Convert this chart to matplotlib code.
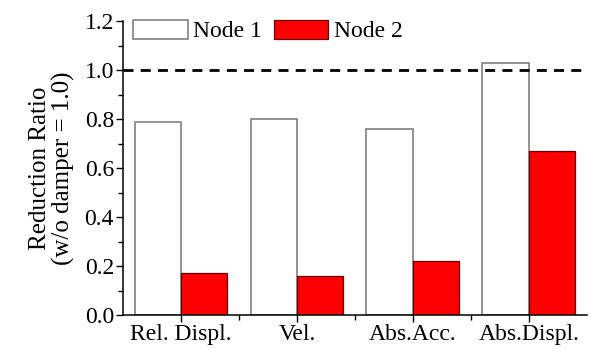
import matplotlib
matplotlib.use("Agg")
import matplotlib.pyplot as plt
import numpy as np
from matplotlib.ticker import MultipleLocator, FixedLocator, FormatStrFormatter

categories = ["Rel. Displ.", "Vel.", "Abs.Acc.", "Abs.Displ."]
node1 = [0.79, 0.80, 0.76, 1.03]
node2 = [0.17, 0.16, 0.22, 0.67]
series_names = ["Node 1", "Node 2"]

plt.rcParams["font.family"] = ["Liberation Serif", "DejaVu Serif"]
plt.rcParams["font.size"] = 17

fig = plt.figure(figsize=(5.90, 3.49), dpi=100)
ax = fig.add_axes([0.2085, 0.0974, 0.786, 0.842])

x = np.arange(len(categories))
w = 0.4
ax.bar(x - w / 2, node1, width=w, color="white", edgecolor="#808080",
       linewidth=1.2, label=series_names[0])
ax.bar(x + w / 2, node2, width=w, color="#ff0000", edgecolor="#6a0000",
       linewidth=0.9, label=series_names[1])

ax.axhline(1.0, color="black", linestyle=(0, (3.6, 2.6)), linewidth=2.0)

ax.set_xlim(-0.5, 3.5)
ax.set_ylim(0, 1.2)
ax.set_xticks(x)
ax.set_xticklabels(categories)
ax.xaxis.set_minor_locator(FixedLocator(x[:-1] + 0.5))
ax.yaxis.set_major_locator(MultipleLocator(0.2))
ax.yaxis.set_minor_locator(MultipleLocator(0.1))
ax.yaxis.set_major_formatter(FormatStrFormatter("%.1f"))
ax.tick_params(axis="both", which="major", direction="out", length=5, width=1,
               labelsize=17, pad=1.5)
ax.tick_params(axis="both", which="minor", direction="out", length=3.5, width=1)

for s in ("top", "right"):
    ax.spines[s].set_visible(False)
for s in ("left", "bottom"):
    ax.spines[s].set_linewidth(1.1)

ax.set_ylabel("Reduction Ratio\n(w/o damper = 1.0)", fontsize=18,
              linespacing=1.05, labelpad=7)

ax.legend(loc="upper left", ncol=2, frameon=False, fontsize=17,
          handlelength=2.3, handleheight=0.85, handletextpad=0.25,
          columnspacing=0.5, borderaxespad=0.0, borderpad=0.0,
          bbox_to_anchor=(0.022, 1.005))

fig.savefig("out.png", dpi=100)
